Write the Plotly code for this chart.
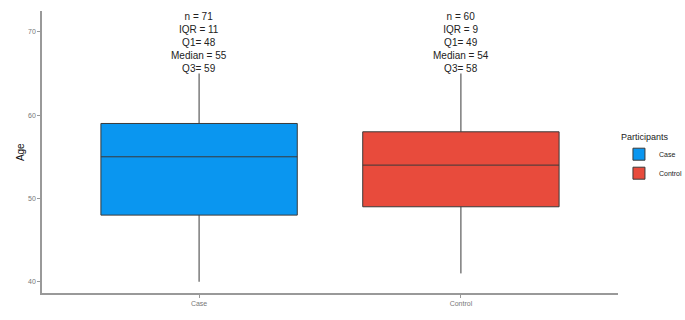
import plotly.graph_objects as go

categories = ["Case", "Control"]
q1 = [48, 49]
median = [55, 54]
q3 = [59, 58]
lower = [40, 41]
upper = [65, 65]
n_vals = [71, 60]
iqr = [11, 9]
colors = ["#0A96F0", "#E84B3C"]

fig = go.Figure()
for i, c in enumerate(categories):
    fig.add_trace(go.Box(
        name=c, x=[c], q1=[q1[i]], median=[median[i]], q3=[q3[i]],
        lowerfence=[lower[i]], upperfence=[upper[i]],
        fillcolor=colors[i], line=dict(color="#3a3a3a", width=1),
        width=0.75, whiskerwidth=0, boxpoints=False, hoverinfo="skip",
    ))
    fig.add_annotation(
        x=c, y=1.0, xref="x", yref="paper", yanchor="top", showarrow=False,
        yshift=2,
        text=f"n = {n_vals[i]}<br>IQR = {iqr[i]}<br>Q1= {q1[i]}<br>Median = {median[i]}<br>Q3= {q3[i]}",
        font=dict(family="Liberation Sans, Arial", size=10, color="#222222"),
        align="center",
    )

fig.add_annotation(
    x=-0.038, y=0.5, xref="paper", yref="paper", xanchor="center", yanchor="middle",
    showarrow=False, textangle=-90, text="Age",
    font=dict(family="Liberation Sans, Arial", size=10, color="#111111"),
)

fig.update_layout(
    width=685, height=320,
    margin=dict(l=42, r=67, t=11, b=27),
    plot_bgcolor="white", paper_bgcolor="white",
    font=dict(family="Liberation Sans, Arial", color="#222222"),
    showlegend=True,
    legend=dict(
        title=dict(text="Participants", font=dict(size=9, color="#222222")),
        xref="container", yref="container",
        x=0.9036, y=0.6, xanchor="left", yanchor="top",
        font=dict(size=7, color="#222222"), tracegroupgap=0,
        itemwidth=30,
    ),
    xaxis=dict(
        type="category", range=[-0.6, 1.6], showgrid=False, automargin=False,
        showline=True, linecolor="#999999", linewidth=1.5,
        ticks="outside", ticklen=3, tickcolor="#999999",
        tickfont=dict(size=7, color="#777777"),
    ),
    yaxis=dict(
        range=[38.65, 72.5], tickvals=[40, 50, 60, 70], showgrid=False, zeroline=False,
        automargin=False,
        showline=True, linecolor="#999999", linewidth=1.5,
        ticks="outside", ticklen=3, tickcolor="#999999",
        tickfont=dict(size=7, color="#777777"),
    ),
)

fig.write_html("out.html", config={"displayModeBar": False},
               post_script="document.body.style.margin='0';")
